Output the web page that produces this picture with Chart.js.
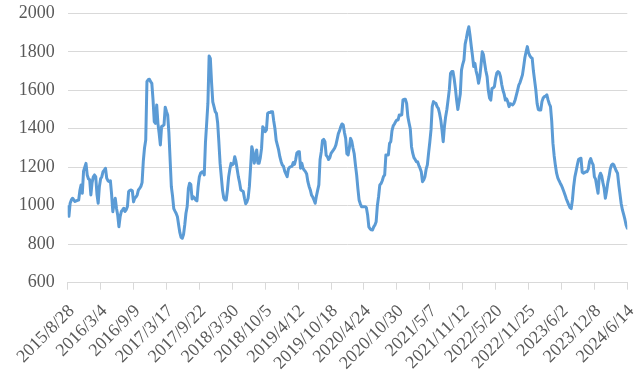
<!DOCTYPE html>
<html>
<head>
<meta charset="utf-8">
<script src="https://cdn.jsdelivr.net/npm/chart.js@4.4.1/dist/chart.umd.min.js"></script>
<style>
html,body{margin:0;padding:0;background:#ffffff;}
#wrap{width:644px;height:382px;position:relative;}
</style>
</head>
<body>
<div id="wrap"><canvas id="c"></canvas></div>
<script>
// Tick labels on the category axis (one every 27 weeks)
const tickLabels = [
  "2015/8/28","2016/3/4","2016/9/9","2017/3/17","2017/9/22","2018/3/30",
  "2018/10/5","2019/4/12","2019/10/18","2020/4/24","2020/10/30","2021/5/7",
  "2021/11/12","2022/5/20","2022/11/25","2023/6/2","2023/12/8","2024/6/14"
];
const weeksPerLabel = 27;

// Weekly series values (2015/8/28 .. 2024/6/14)
const values = [
  995, 945, 1013, 1030, 1039, 1030, 1022, 1025, 1028, 1030,
  1080, 1108, 1065, 1180, 1200, 1220, 1160, 1140, 1135, 1056,
  1120, 1150, 1160, 1150, 1060, 1013, 1100, 1140, 1151, 1177,
  1185, 1195, 1143, 1130, 1125, 1130, 1060, 969, 1010, 1039,
  987, 952, 891, 943, 970, 978, 987, 970, 980, 996,
  1074, 1080, 1082, 1078, 1020, 1040, 1045, 1056, 1082, 1090,
  1100, 1120, 1230, 1300, 1342, 1645, 1655, 1657, 1645, 1636,
  1550, 1437, 1428, 1524, 1428, 1376, 1316, 1411, 1415, 1420,
  1512, 1490, 1472, 1380, 1240, 1100, 1050, 985, 972, 960,
  943, 900, 860, 836, 831, 850, 900, 961, 996, 1090,
  1117, 1110, 1035, 1047, 1040, 1030, 1025, 1100, 1151, 1169,
  1175, 1177, 1160, 1330, 1430, 1533, 1778, 1766, 1640, 1540,
  1515, 1489, 1480, 1430, 1330, 1220, 1150, 1080, 1040, 1030,
  1030, 1080, 1150, 1190, 1220, 1212, 1218, 1255, 1230, 1190,
  1150, 1120, 1082, 1078, 1074, 1039, 1010, 1020, 1040, 1099,
  1200, 1307, 1281, 1221, 1250, 1290, 1221, 1221, 1250, 1298,
  1411, 1400, 1385, 1394, 1480, 1485, 1485, 1489, 1489, 1440,
  1400, 1340, 1315, 1290, 1255, 1230, 1212, 1205, 1180, 1165,
  1151, 1190, 1200, 1203, 1205, 1225, 1215, 1240, 1275, 1280,
  1281, 1195, 1221, 1195, 1185, 1177, 1165, 1125, 1100, 1082,
  1055, 1045, 1030, 1013, 1050, 1080, 1108, 1240, 1281, 1340,
  1345, 1333, 1262, 1255, 1240, 1250, 1272, 1281, 1290, 1300,
  1316, 1345, 1375, 1390, 1411, 1425, 1420, 1380, 1350, 1270,
  1264, 1300, 1350, 1335, 1300, 1270, 1212, 1160, 1090, 1030,
  1010, 995, 995, 995, 995, 990, 952, 890, 880, 875,
  874, 890, 900, 917, 1000, 1048, 1108, 1115, 1130, 1151,
  1160, 1264, 1264, 1264, 1324, 1333, 1390, 1415, 1425, 1437,
  1446, 1446, 1472, 1470, 1472, 1550, 1553, 1553, 1532, 1463,
  1430, 1400, 1307, 1273, 1250, 1240, 1229, 1229, 1210, 1195,
  1177, 1125, 1134, 1151, 1190, 1212, 1273, 1330, 1394, 1515,
  1541, 1535, 1532, 1515, 1506, 1480, 1446, 1394, 1333, 1411,
  1463, 1500, 1550, 1602, 1688, 1697, 1697, 1660, 1610, 1549,
  1500, 1540, 1580, 1705, 1735, 1757, 1840, 1870, 1905, 1930,
  1885, 1830, 1780, 1723, 1740, 1700, 1675, 1636, 1670, 1730,
  1800, 1785, 1740, 1700, 1671, 1600, 1560, 1549, 1610, 1612,
  1619, 1662, 1690, 1697, 1692, 1671, 1630, 1600, 1580, 1549,
  1555, 1540, 1515, 1530, 1528, 1524, 1532, 1550, 1575, 1600,
  1627, 1640, 1660, 1680, 1723, 1770, 1800, 1827, 1795, 1780,
  1770, 1766, 1700, 1650, 1600, 1532, 1500, 1497, 1497, 1541,
  1560, 1567, 1570, 1576, 1550, 1530, 1515, 1440, 1325, 1260,
  1210, 1169, 1145, 1130, 1117, 1105, 1090, 1073, 1055, 1035,
  1020, 1004, 990, 985, 1030, 1100, 1150, 1180, 1212, 1240,
  1245, 1247, 1175, 1169, 1172, 1177, 1177, 1190, 1229, 1245,
  1225, 1212, 1150, 1138, 1100, 1065, 1151, 1169, 1155, 1120,
  1091, 1039, 1075, 1120, 1151, 1190, 1210, 1217, 1212, 1195,
  1180, 1169, 1110, 1060, 1010, 978, 955, 930, 900, 883
];

// Value axis ticks
const yMin = 600;
const yMax = 2000;
const yStep = 200;

const points = values.map((v, i) => ({ x: i, y: v }));
const fontFamily = "'Liberation Serif', 'Times New Roman', serif";
const textColor = '#595959';
const gridColor = '#d9d9d9';

new Chart(document.getElementById('c'), {
  type: 'line',
  data: {
    datasets: [{
      data: points,
      borderColor: '#5B9BD5',
      borderWidth: 3,
      pointRadius: 0,
      tension: 0,
      fill: false,
      borderJoinStyle: 'round',
      borderCapStyle: 'round'
    }]
  },
  options: {
    responsive: true,
    maintainAspectRatio: false,
    animation: false,
    events: [],
    layout: { padding: { top: 13.3, right: 16.7, left: 0, bottom: 0 } },
    plugins: { legend: { display: false }, tooltip: { enabled: false } },
    scales: {
      x: {
        type: 'linear',
        min: 0,
        max: (tickLabels.length - 1) * weeksPerLabel,
        afterFit: (s) => { s.height = 99.3; s.paddingLeft = 0; s.paddingRight = 0; },
        afterBuildTicks: (s) => {
          s.ticks = tickLabels.map((_, k) => ({ value: k * weeksPerLabel }));
        },
        ticks: {
          autoSkip: false,
          maxRotation: 45,
          minRotation: 45,
          padding: 11,
          labelOffset: 4,
          color: textColor,
          font: { family: fontFamily, size: 18 },
          callback: (v) => tickLabels[Math.round(v / weeksPerLabel)]
        },
        grid: { drawOnChartArea: false, drawTicks: true, tickLength: 7, color: gridColor, lineWidth: 1 },
        border: { display: true, color: gridColor, width: 1 }
      },
      y: {
        min: yMin,
        max: yMax,
        afterFit: (s) => { s.width = 67.7; s.paddingTop = 0; s.paddingBottom = 0; },
        ticks: {
          stepSize: yStep,
          padding: 13,
          color: textColor,
          font: { family: fontFamily, size: 18 },
          callback: (v) => String(v)
        },
        grid: { color: gridColor, lineWidth: 1, drawTicks: false },
        border: { display: false }
      }
    }
  }
});
</script>
</body>
</html>
